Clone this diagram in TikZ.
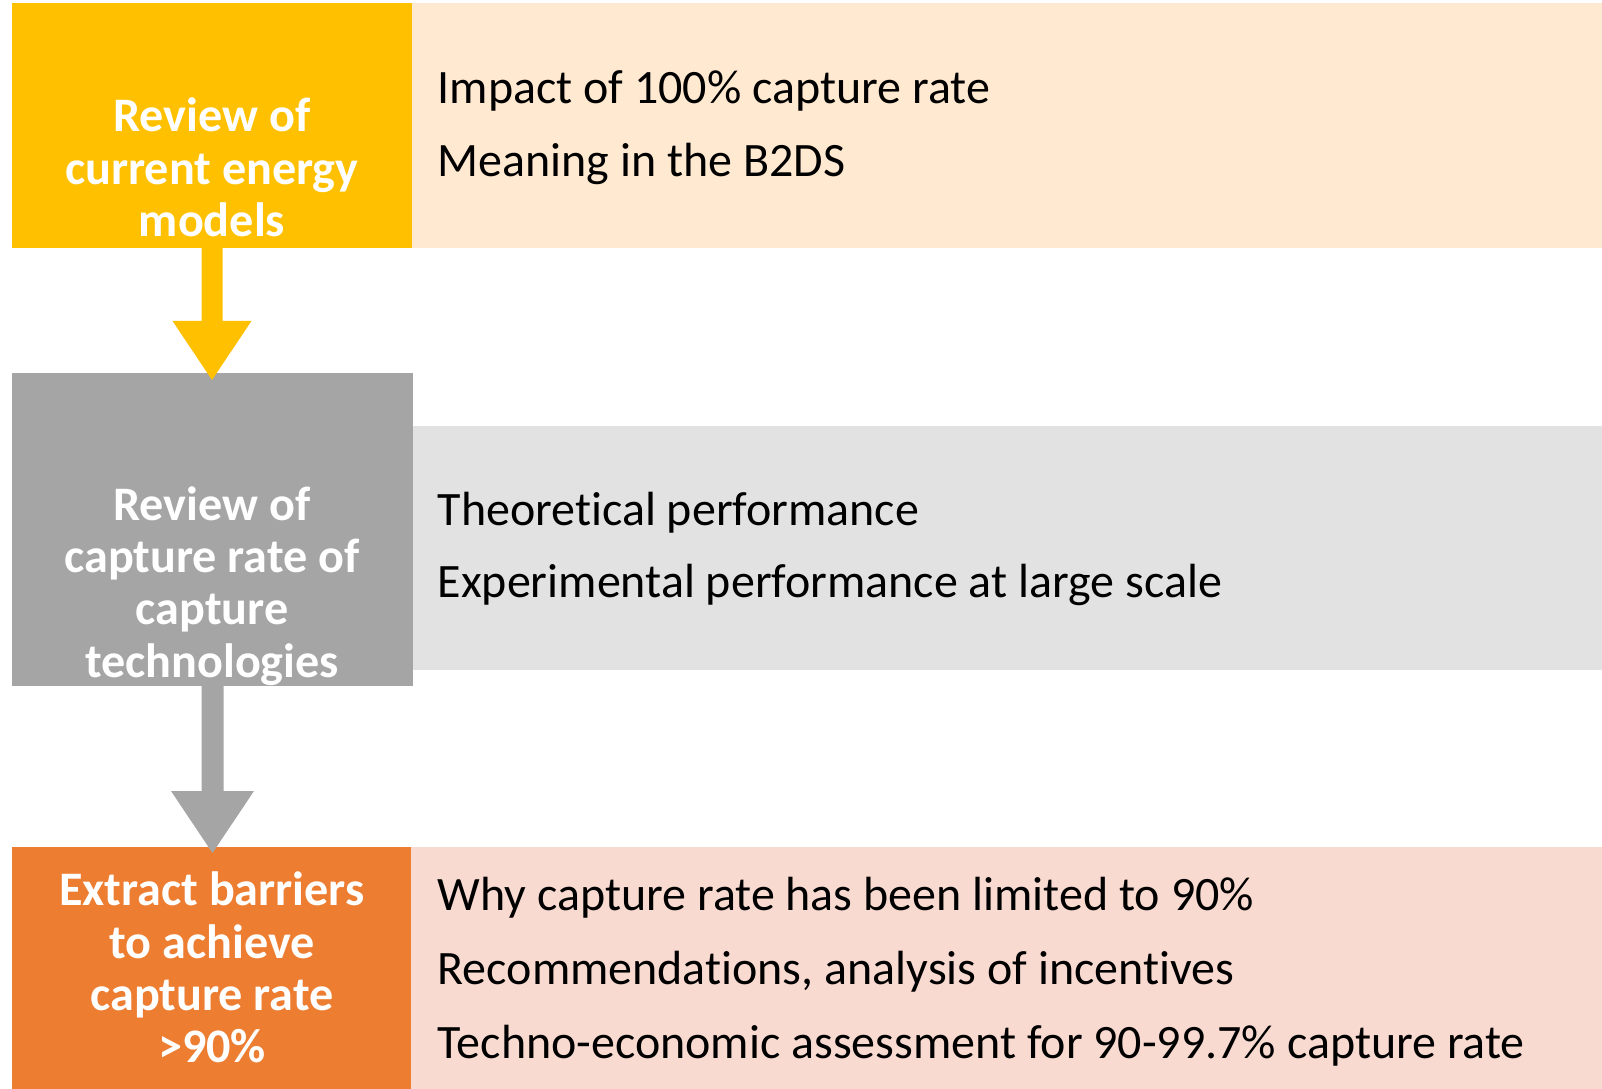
\documentclass[tikz,border=0pt]{standalone}
\usepackage{fontspec}
\setmainfont{Carlito}[Ligatures=NoCommon]
\usetikzlibrary{calc,positioning}
\definecolor{stepYellow}{HTML}{FFC000}
\definecolor{stepGray}{HTML}{A5A5A5}
\definecolor{stepOrange}{HTML}{ED7D31}
\definecolor{notePeach}{HTML}{FFE9D1}
\definecolor{noteGray}{HTML}{E2E2E2}
\definecolor{notePink}{HTML}{F8DAD1}
\def\fatarrow[#1](#2)(#3:#4:#5:#6){\fill[#1] ($(#2)+(-#3,0)$) -- ($(#2)+(-#3,-#5)$) -- ($(#2)+(-#4,-#5)$) -- ($(#2)+(0,-#6)$) -- ($(#2)+(#4,-#5)$) -- ($(#2)+(#3,-#5)$) -- ($(#2)+(#3,0)$) -- cycle;}
\tikzset{
	panel/.style={rectangle, inner sep=0, outer sep=0, anchor=north west},
	steptext/.style={text=white, font=\fontsize{13.7}{14.9}\selectfont\bfseries, align=center, inner sep=0},
	notetext/.style={font=\fontsize{13.65}{16}\selectfont, anchor=base west, inner sep=0},
}

\begin{document}
\begin{tikzpicture}
		%%%%% START %%%%%
		\useasboundingbox (0, 0) rectangle (16.02, -10.89);
		
		\node[panel, fill=stepYellow, minimum width=4cm, minimum height=2.45cm] (models) at (0.12, -0.03) {};
		\node[panel, fill=notePeach, minimum width=11.9cm, minimum height=2.45cm] (modelsnote) at (models.north east) {};
		
		\node[panel, fill=stepGray, minimum width=4.01cm, minimum height=3.13cm] (tech) at (0.12, -3.73) {};
		\node[panel, fill=noteGray, minimum width=11.89cm, minimum height=2.44cm] (technote) at (4.13, -4.26) {};
		
		\node[panel, fill=stepOrange, minimum width=3.99cm, minimum height=2.42cm] (barriers) at (0.12, -8.47) {};
		\node[panel, fill=notePink, minimum width=11.91cm, minimum height=2.42cm] (barriersnote) at (barriers.north east) {};
		
		\fatarrow[stepYellow](models.south)(0.105:0.395:0.73:1.32);
		\fatarrow[stepGray](tech.south)(0.11:0.415:1.05:1.67);
		
		\node[steptext] (modelslabel) at (2.12, -1.675) {Review of\\current energy\\models};
		\node[steptext] (techlabel) at (2.12, -5.86) {Review of\\capture rate of\\capture\\technologies};
		\node[steptext] (barrierslabel) at (2.12, -9.675) {Extract barriers\\to achieve\\capture rate\\>90\%};
		
		\node[notetext] (impact) at (4.37, -1.04) {Impact of 100\% capture rate};
		\node[notetext] (meaning) at (4.37, -1.77) {Meaning in the B2DS};
		\node[notetext] (theory) at (4.37, -5.26) {Theoretical performance};
		\node[notetext] (experiment) at (4.37, -5.98) {Experimental performance at large scale};
		\node[notetext] (why) at (4.37, -9.11) {Why capture rate has been limited to 90\%};
		\node[notetext] (advice) at (4.37, -9.84) {Recommendations, analysis of incentives};
		\node[notetext] (techno) at (4.37, -10.58) {Techno-economic assessment for 90-99.7\% capture rate};
		%%%%% END %%%%%
	\end{tikzpicture}
\end{document}
